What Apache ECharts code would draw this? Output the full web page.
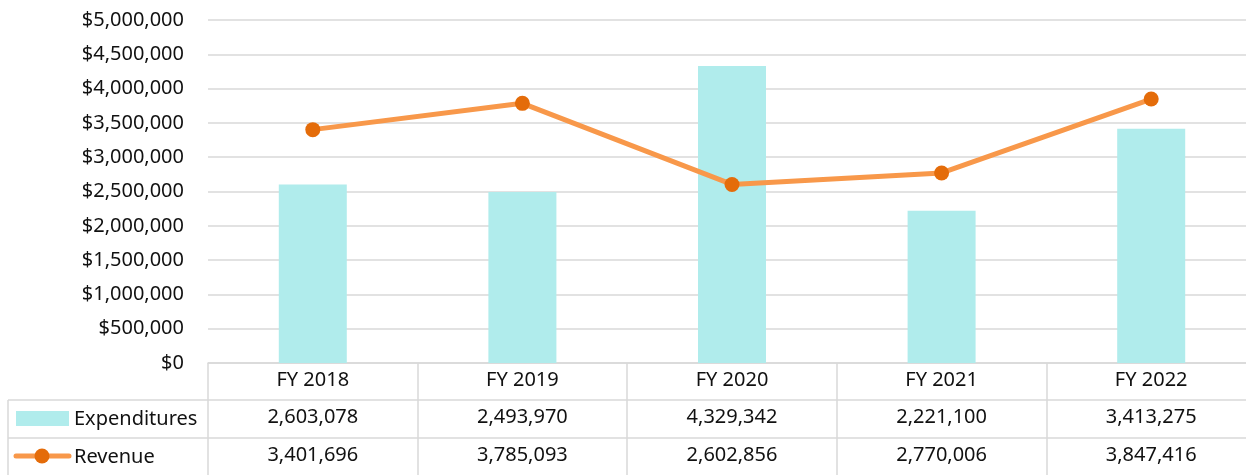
<!DOCTYPE html>
<html>
<head>
    <meta charset="utf-8">
    <script type="text/javascript" src="https://cdn.jsdelivr.net/npm/echarts@6/dist/echarts.min.js"></script>
    <style>
        body { margin: 0; background: #fff; overflow: hidden; }
    </style>
</head>
<body>
<!-- the plot runs past the right edge in the original, so the chart is a bit wider than the window -->
<div id="main" style="width:1256px;height:475px"></div>
<script type="text/javascript">
    var years = ['FY 2018', 'FY 2019', 'FY 2020', 'FY 2021', 'FY 2022'];
    var expenditures = [2603078, 2493970, 4329342, 2221100, 3413275];
    var revenue = [3401696, 3785093, 2602856, 2770006, 3847416];
    var yTicks = [0, 500000, 1000000, 1500000, 2000000, 2500000, 3000000, 3500000, 4000000, 4500000, 5000000];

    var FONT = '"Noto Sans", sans-serif';
    var FS = 20;
    var TXT = '#111';
    var GRID_LINE = '#d9d9d9';

    function fmt(v) {
        return v.toLocaleString('en-US');
    }

    // 表格行用额外的x轴来画
    function rowAxis(offset, values) {
        return {
            type: 'category',
            data: years,
            position: 'bottom',
            offset: offset,
            axisLine: {show: false},
            axisTick: {show: false},
            axisLabel: {
                color: TXT, fontFamily: FONT, fontSize: FS, margin: 7,
                formatter: function (v, i) { return fmt(values[i]); }
            }
        };
    }

    var myChart = echarts.init(document.getElementById('main'));
    var option = {
        animation: false,
        grid: {left: 208, right: 0, top: 20, bottom: 112},
        xAxis: [{
            type: 'category',
            data: years,
            axisLine: {lineStyle: {color: GRID_LINE, width: 1.5}},
            axisTick: {show: true, alignWithLabel: false, length: 112, lineStyle: {color: GRID_LINE, width: 1.5}},
            axisLabel: {color: TXT, fontFamily: FONT, fontSize: FS, margin: 7}
        }, rowAxis(37, expenditures), rowAxis(75, revenue)],
        yAxis: {
            type: 'value',
            min: yTicks[0],
            max: yTicks[yTicks.length - 1],
            interval: yTicks[1] - yTicks[0],
            axisLine: {show: false},
            axisTick: {show: false},
            splitLine: {lineStyle: {color: GRID_LINE, width: 1.5}},
            axisLabel: {
                color: TXT, fontFamily: FONT, fontSize: FS, margin: 24,
                formatter: function (v) { return '$' + fmt(v); }
            }
        },
        series: [{
            name: 'Expenditures',
            type: 'bar',
            data: expenditures,
            barWidth: 68,
            itemStyle: {color: '#b0ecec'}
        }, {
            name: 'Revenue',
            type: 'line',
            data: revenue,
            symbol: 'circle',
            symbolSize: 15,
            lineStyle: {color: '#f8984a', width: 5},
            itemStyle: {color: '#e46c0a'}
        }],
        graphic: [
            // table borders
            {type: 'line', shape: {x1: 8, y1: 400, x2: 1256, y2: 400}, style: {stroke: GRID_LINE, lineWidth: 1.5}},
            {type: 'line', shape: {x1: 8, y1: 438, x2: 1256, y2: 438}, style: {stroke: GRID_LINE, lineWidth: 1.5}},
            {type: 'line', shape: {x1: 8, y1: 400, x2: 8, y2: 475}, style: {stroke: GRID_LINE, lineWidth: 1.5}},
            // legend keys
            {type: 'rect', shape: {x: 16, y: 411, width: 53, height: 15}, style: {fill: '#b0ecec'}},
            {type: 'text', x: 74, y: 419, style: {text: 'Expenditures', fill: TXT, font: FS + 'px ' + FONT, textVerticalAlign: 'middle'}},
            {type: 'line', shape: {x1: 16, y1: 456, x2: 69, y2: 456}, style: {stroke: '#f8984a', lineWidth: 5, lineCap: 'round'}},
            {type: 'circle', shape: {cx: 42, cy: 456, r: 7.5}, style: {fill: '#e46c0a'}},
            {type: 'text', x: 74, y: 457, style: {text: 'Revenue', fill: TXT, font: FS + 'px ' + FONT, textVerticalAlign: 'middle'}}
        ]
    };
    myChart.setOption(option);
</script>
</body>
</html>
